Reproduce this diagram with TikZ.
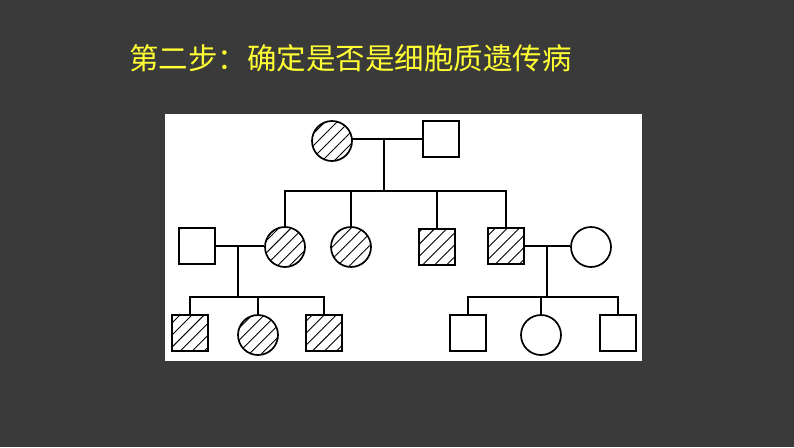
\documentclass[tikz,border=0pt]{standalone}
\usepackage{fontspec}
\newfontfamily\cjk{Noto Sans CJK SC}
\usetikzlibrary{patterns.meta}
\definecolor{SlideBg}{HTML}{3A3A3A}
\definecolor{TitleYellow}{HTML}{FFFF33}
\begin{document}
\begin{tikzpicture}[x=1pt,y=-1pt,
  male/.style={rectangle,draw,line width=1.7pt,minimum size=36pt,inner sep=0pt},
  female/.style={circle,draw,line width=1.7pt,minimum size=40pt,inner sep=0pt},
  ill/.style={pattern={Lines[angle=45,distance=8.5pt,line width=0.9pt]}},
  link/.style={line width=1.7pt}
]
% slide and panel
\fill[SlideBg] (0,0) rectangle (794,447);
\fill[white] (165,114) rectangle (642,361);
\node[anchor=west,text=TitleYellow,inner sep=0pt,font=\cjk\fontsize{29.5}{30}\selectfont]
  (title) at (129,58) {第二步：确定是否是细胞质遗传病};
% generation I
\node[female,ill] (f1) at (332,141) {};
\node[male]       (m1) at (441,139) {};
% generation II
\node[male]       (m2) at (197,246) {};
\node[female,ill] (f2) at (285,247) {};
\node[female,ill] (f3) at (351,247) {};
\node[male,ill]   (m3) at (437,247) {};
\node[male,ill]   (m4) at (506,246) {};
\node[female]     (f4) at (591,247) {};
% generation III
\node[male,ill]   (m5) at (190,333) {};
\node[female,ill] (f5) at (258,335) {};
\node[male,ill]   (m6) at (324,333) {};
\node[male]       (m7) at (468,333) {};
\node[female]     (f6) at (541,335) {};
\node[male]       (m8) at (618,333) {};
% junctions
\coordinate (u1) at (384,139);
\coordinate (s1) at (384,191);
\coordinate (u2) at (238,246);
\coordinate (s2) at (238,297);
\coordinate (u3) at (547,246);
\coordinate (s3) at (547,297);
% couples
\draw[link] (f1.east |- u1) -- (m1);
\draw[link] (m2) -- (f2.west |- u2);
\draw[link] (m4) -- (f4.west |- u3);
% descent lines
\draw[link] (u1) -- (s1);
\draw[link] (f2.north) |- (s1) -| (m4.north);
\draw[link] (f3.north) -- (f3 |- s1);
\draw[link] (m3.north) -- (m3 |- s1);
\draw[link] (u2) -- (s2);
\draw[link] (m5.north) |- (s2) -| (m6.north);
\draw[link] (f5.north) -- (f5 |- s2);
\draw[link] (u3) -- (s3);
\draw[link] (m7.north) |- (s3) -| (m8.north);
\draw[link] (f6.north) -- (f6 |- s3);
\end{tikzpicture}
\end{document}
